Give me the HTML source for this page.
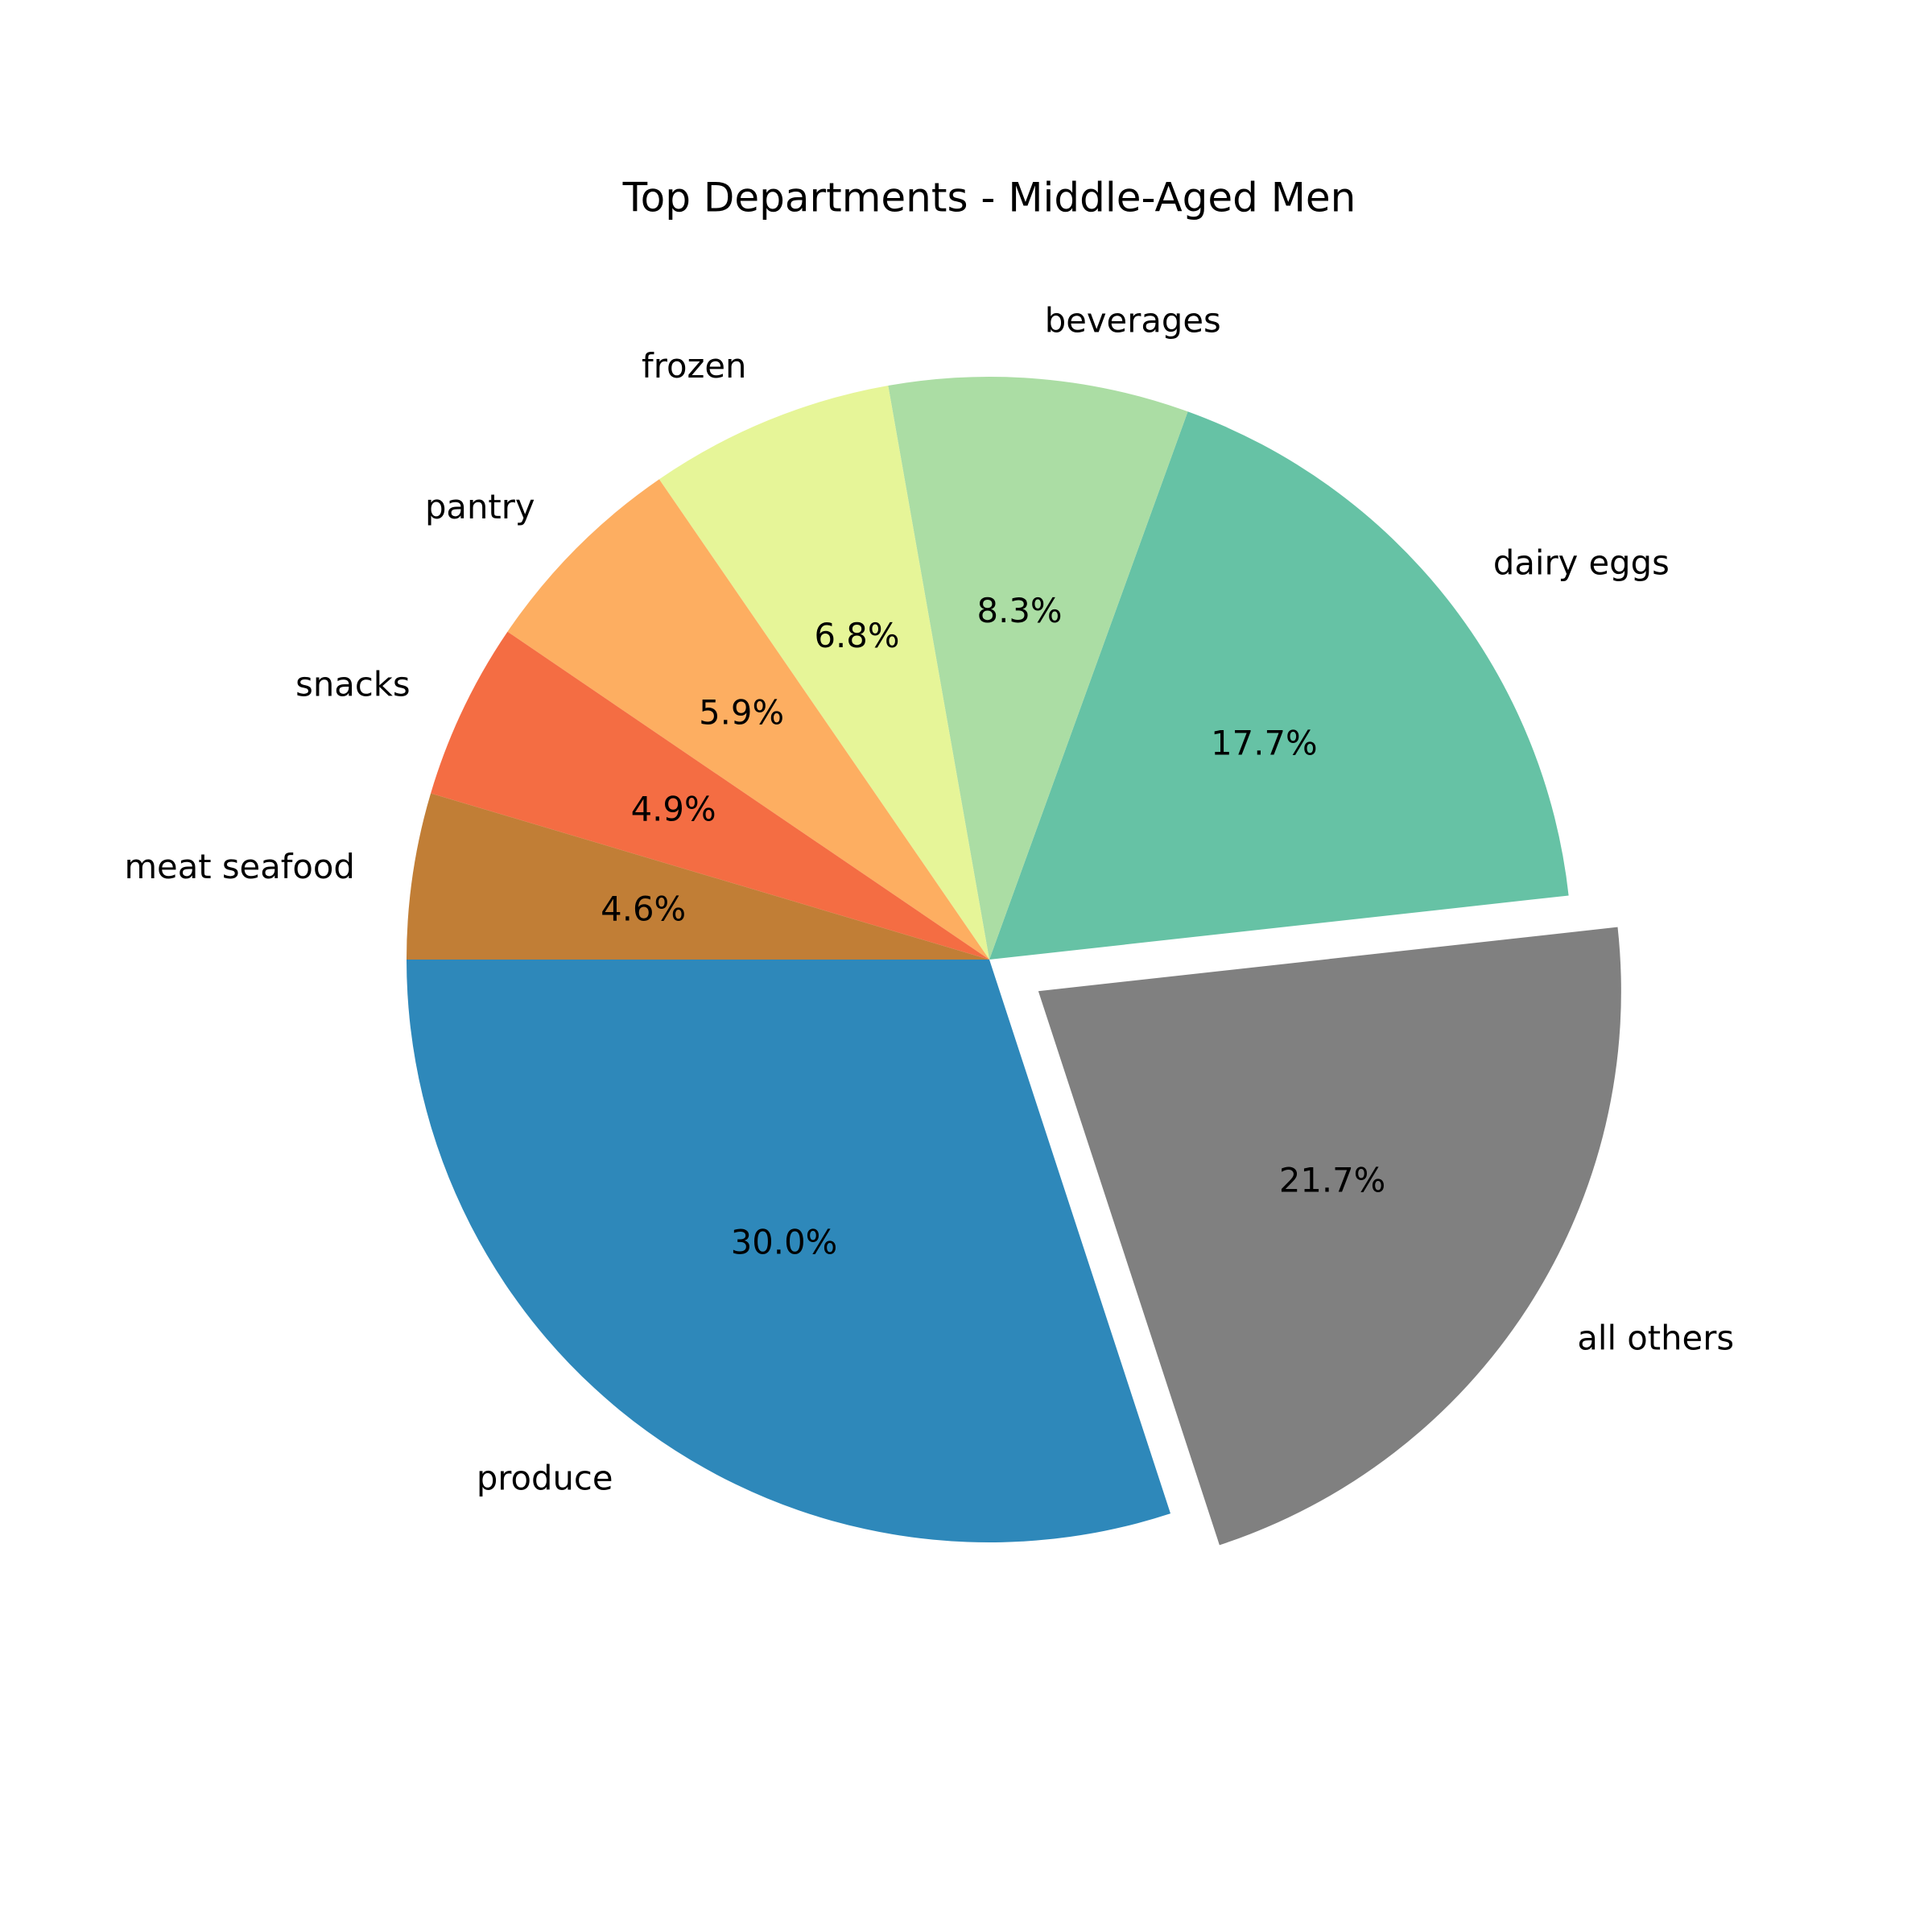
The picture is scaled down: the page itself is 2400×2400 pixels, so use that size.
<!DOCTYPE html>
<html><head><meta charset="utf-8"><style>
html,body{margin:0;padding:0;background:#fff}
svg{display:block}
text{font-family:"DejaVu Sans","Liberation Sans",sans-serif;fill:#000}
</style></head><body>
<svg id="chart" width="2400" height="2400" viewBox="0 0 2400 2400">
<text x="1229" y="249" font-size="50" text-anchor="middle" dominant-baseline="middle">Top Departments - Middle-Aged Men</text>
<g id="slices"></g><g id="labels"></g>
</svg>
<script>
const categories = ["produce","all others","dairy eggs","beverages","frozen","pantry","snacks","meat seafood"];
const values = [30.0, 21.7, 17.7, 8.3, 6.8, 5.9, 4.9, 4.6];
const explode = [0, 0.1, 0, 0, 0, 0, 0, 0];
const colors = ["#2e88ba","#808080","#66c2a5","#abdda4","#e6f598","#fdae61","#f46d43","#c17e36"];
const cx = 1229, cy = 1192, r = 724, startAngle = 180;
const ns = "http://www.w3.org/2000/svg";
const gS = document.getElementById("slices"), gL = document.getElementById("labels");
const total = values.reduce((a,b)=>a+b,0);
let a0 = startAngle;
function pt(x,y,rad,deg){const t=deg*Math.PI/180;return [x+rad*Math.cos(t), y-rad*Math.sin(t)];}
values.forEach((v,i)=>{
  const sweep = v/total*360, a1 = a0+sweep, mid = (a0+a1)/2;
  const [ox,oy] = pt(cx,cy,explode[i]*r,mid);
  const p0 = pt(ox,oy,r,a0), p1 = pt(ox,oy,r,a1);
  const large = sweep>180?1:0;
  const path = document.createElementNS(ns,"path");
  path.setAttribute("d",`M${ox},${oy} L${p0[0]},${p0[1]} A${r},${r} 0 ${large} 0 ${p1[0]},${p1[1]} Z`);
  path.setAttribute("fill",colors[i]);
  
  
  gS.appendChild(path);
  const [lx,ly] = pt(ox,oy,1.1*r,mid);
  const lab = document.createElementNS(ns,"text");
  lab.setAttribute("x",lx); lab.setAttribute("y",ly+3);
  lab.setAttribute("font-size","41.7");
  lab.setAttribute("text-anchor", Math.cos(mid*Math.PI/180)>=0?"start":"end");
  lab.setAttribute("dominant-baseline","middle");
  lab.textContent = categories[i];
  
  
  gL.appendChild(lab);
  const [px,py] = pt(ox,oy,0.6*r,mid);
  const pc = document.createElementNS(ns,"text");
  pc.setAttribute("x",px); pc.setAttribute("y",py+3);
  pc.setAttribute("font-size","41.7");
  pc.setAttribute("text-anchor","middle");
  pc.setAttribute("dominant-baseline","middle");
  pc.textContent = v.toFixed(1)+"%";
  
  
  gL.appendChild(pc);
  a0 = a1;
});
</script>
</body></html>
